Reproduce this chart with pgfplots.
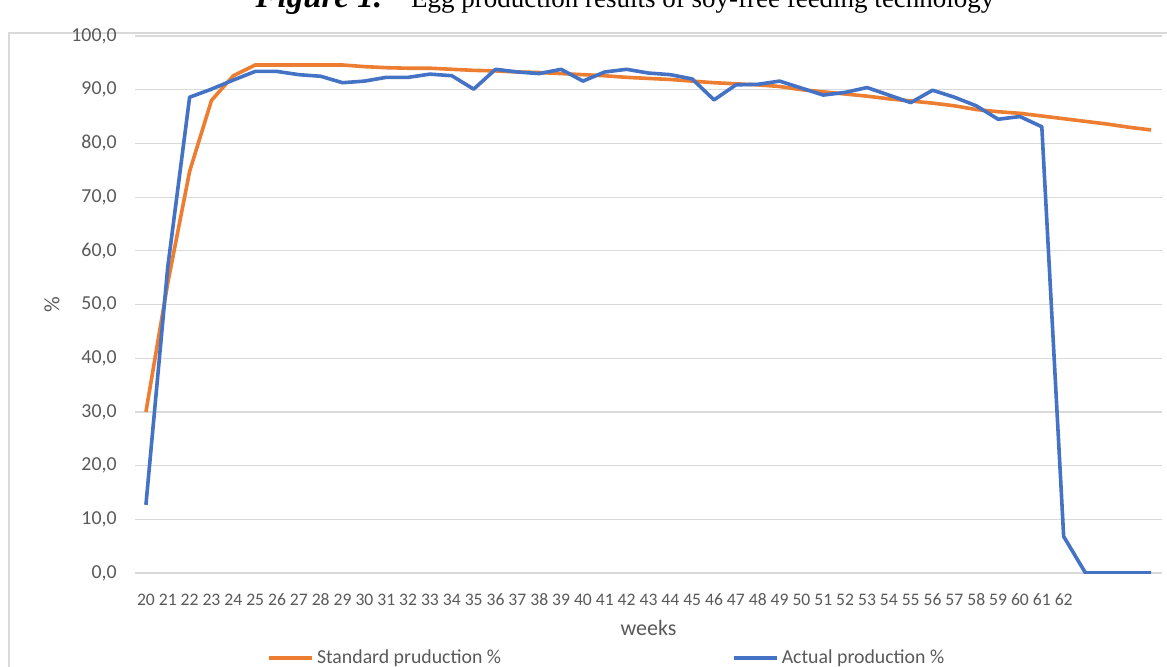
\documentclass[border=0pt]{standalone}
\usepackage{pgfplots}
\pgfplotsset{compat=1.18}
\usepackage{fontspec}
\setmainfont{Carlito}
\newfontfamily\titlefont{Liberation Serif}
\definecolor{xlorange}{HTML}{ED7D31}
\definecolor{xlblue}{HTML}{4472C4}
\definecolor{xlgrid}{HTML}{D9D9D9}
\definecolor{xltext}{HTML}{595959}
\definecolor{xlborder}{HTML}{D9D9D9}

\pgfplotstableread{
week std act
20 30.0 12.7
21 54.0 57.0
22 74.8 88.6
23 88.0 90.1
24 92.6 91.8
25 94.6 93.4
26 94.6 93.4
27 94.6 92.8
28 94.6 92.5
29 94.6 91.3
30 94.3 91.6
31 94.1 92.3
32 94.0 92.3
33 94.0 92.9
34 93.8 92.6
35 93.6 90.1
36 93.5 93.8
37 93.3 93.3
38 93.2 93.0
39 93.0 93.8
40 92.8 91.6
41 92.6 93.3
42 92.3 93.8
43 92.1 93.1
44 91.9 92.8
45 91.6 92.0
46 91.3 88.1
47 91.1 90.9
48 90.9 91.0
49 90.6 91.6
50 90.0 90.3
51 89.6 89.0
52 89.2 89.5
53 88.8 90.4
54 88.3 89.0
55 87.9 87.6
56 87.5 89.9
57 87.0 88.6
58 86.3 87.0
59 85.9 84.5
60 85.6 85.0
61 85.1 83.1
62 84.6 6.8
63 84.1 0.0
64 83.6 0.0
65 83.0 0.0
66 82.5 0.0
}\datatable

\begin{document}
\begin{tikzpicture}
\useasboundingbox (0,0) rectangle (583.5pt,333pt);
\clip (0,0) rectangle (583.5pt,333pt);
% outer chart border (partially visible)
\draw[xlborder, line width=0.6pt] (4.5pt,-10pt) -- (4.5pt,316.5pt) -- (600pt,316.5pt);
% title (top cut off)
\node[anchor=base, inner sep=0pt, text=black] at (312.5pt,329pt)
  {\titlefont\fontsize{13.5}{16}\selectfont{\fontsize{16.5}{20}\selectfont\textbf{\textit{Figure 1.}}}\hspace{10pt} Egg production results of soy-free feeding technology};
\begin{axis}[
  at={(67.5pt,46.5pt)}, anchor=south west,
  scale only axis, width=513.5pt, height=268.5pt,
  xmin=19.5, xmax=66.5, ymin=0, ymax=100,
  xtick={20,...,62}, ytick={0,10,...,100},
  major tick length=0pt,
  axis line style={draw=none},
  ymajorgrids, major grid style={xlgrid, line width=0.6pt},
  tick label style={text=xltext},
  /pgf/number format/assume math mode=true,
  yticklabel style={font=\fontsize{9.9}{12}\selectfont, /pgf/number format/.cd, fixed, fixed zerofill, precision=1, use comma, /tikz/.cd, xshift=-5.7pt},
  xticklabel style={font=\fontsize{8.8}{10}\selectfont, text height=6.5pt, text depth=0pt, yshift=-6pt},
  xlabel={weeks}, ylabel={\%},
  label style={font=\fontsize{11}{13}\selectfont, text=xltext},
  xlabel style={at={(axis description cs:0.5,0)}, anchor=center, yshift=-27.5pt},
  ylabel style={at={(axis description cs:0,0.5)}, anchor=center, yshift=41.5pt},
  legend columns=2,
  legend style={at={(axis description cs:0,0)}, anchor=west, xshift=66pt, yshift=-42.5pt,
    draw=none, fill=none, inner sep=0pt,
    font=\fontsize{9.9}{12}\selectfont, text=xltext,
    nodes={inner xsep=1.5pt, inner ysep=0.5pt},
    /tikz/every even column/.append style={column sep=114pt}},
  legend cell align=left,
  legend image code/.code={\draw[#1] (0pt,0pt) -- (21.5pt,0pt);},
  every axis plot/.append style={line width=1.8pt, line join=round, no markers},
]
\addplot[xlorange] table[x=week, y=std] {\datatable};
\addlegendentry{Standard pruduction \%}
\addplot[xlblue] table[x=week, y=act] {\datatable};
\addlegendentry{Actual production \%}
\end{axis}
\end{tikzpicture}
\end{document}
